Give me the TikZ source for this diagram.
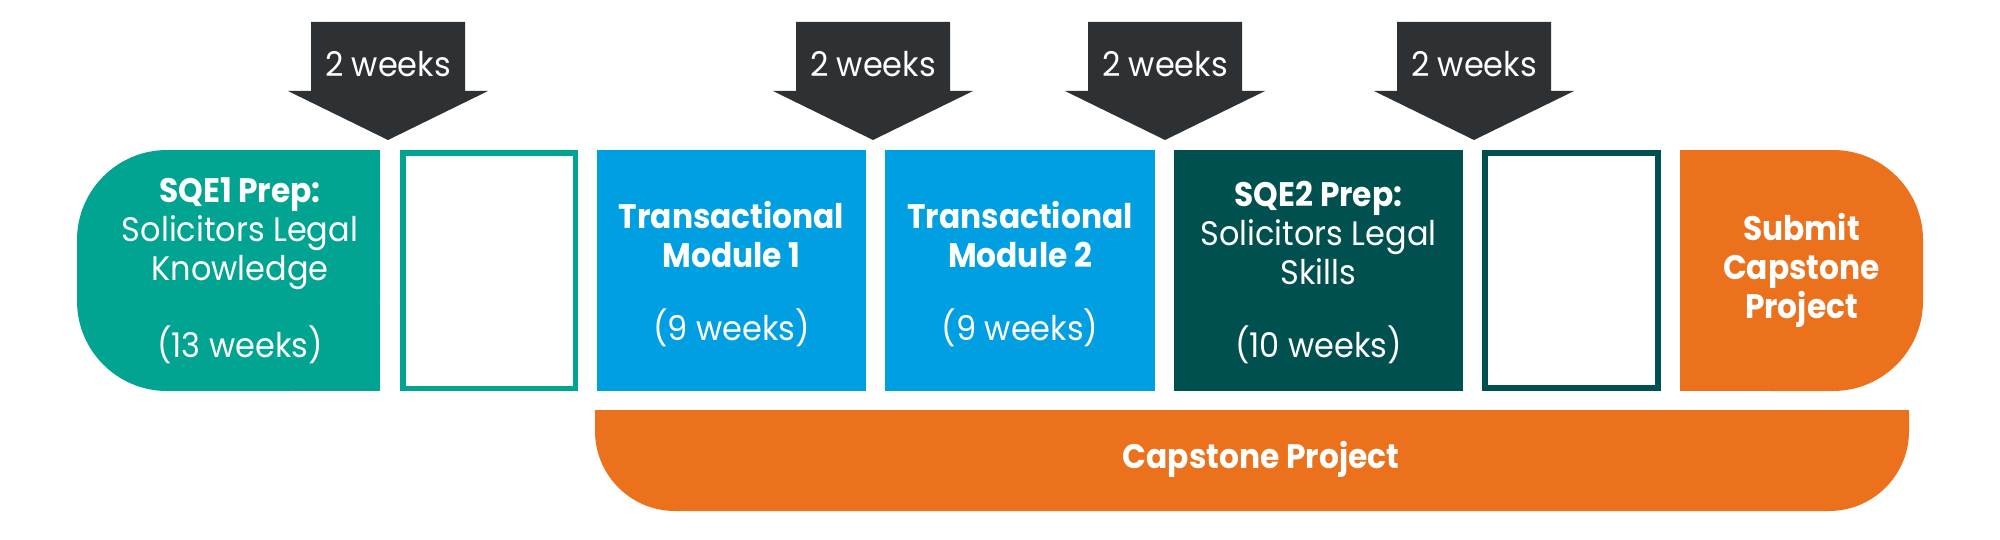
\documentclass[tikz,border=0pt]{standalone}
\usepackage{fontspec}
\setmainfont{Poppins}[FakeStretch=0.94,BoldFeatures={FakeStretch=0.92}]
\usepackage{tikz}
\usetikzlibrary{positioning}
\definecolor{sqeOneGreen}{RGB}{0,164,145}
\definecolor{transBlue}{RGB}{0,159,226}
\definecolor{sqeTwoGreen}{RGB}{0,80,80}
\definecolor{capOrange}{RGB}{236,113,28}
\definecolor{gapGrey}{RGB}{46,49,51}
\tikzstyle{blocktext} = [text=white,align=center,inner sep=0pt,anchor=base,font=\fontsize{17}{19.5}\selectfont]
\tikzstyle{weektext} = [text=white,inner sep=0pt,anchor=base,font=\fontsize{17}{19.5}\selectfont]

\begin{document}
\begin{tikzpicture}[x=0.5pt,y=-0.5pt]
	\useasboundingbox (0,0) rectangle (2000,540);
	%2 week breaks
	\foreach \x/\n in {388/one,873/two,1165/three,1474/four}{
		\fill[gapGrey] (\x-77,22) -- (\x+77,22) -- (\x+77,91) -- (\x+100,91) -- (\x,140) -- (\x-100,91) -- (\x-77,91) -- cycle;
		\node[weektext] (week\n) at (\x,77) {2 weeks};
	}
	
	\fill[sqeOneGreen,rounded corners=45pt] (77,150) rectangle (380,391);
	\fill[sqeOneGreen] (230,150) rectangle (380,391);
	\draw[sqeOneGreen,line width=2.75pt] (402.75,152.75) rectangle (575.25,388.25);
	\fill[transBlue] (597,150) rectangle (866,391);
	\fill[transBlue] (885,150) rectangle (1155,391);
	\fill[sqeTwoGreen] (1174,150) rectangle (1463,391);
	\draw[sqeTwoGreen,line width=3pt] (1485,153) rectangle (1658,388);
	\fill[capOrange,rounded corners=45pt] (1680,150) rectangle (1923,391);
	\fill[capOrange] (1680,150) rectangle (1800,391);
	\begin{scope}
		\clip (595,410) rectangle (1909,511);
		\fill[capOrange,rounded corners=40pt] (595,300) rectangle (1909,511);
	\end{scope}
	
	\node[blocktext] (sqeone) at (240,357) {\textbf{SQE1 Prep:}\\Solicitors Legal\\Knowledge\\[17pt](13 weeks)};
	\node[blocktext] (transone) at (731.5,340) {\textbf{Transactional}\\\textbf{Module 1}\\[17pt](9 weeks)};
	\node[blocktext] (transtwo) at (1020,340) {\textbf{Transactional}\\\textbf{Module 2}\\[17pt](9 weeks)};
	\node[blocktext] (sqetwo) at (1318.5,357) {\textbf{SQE2 Prep:}\\Solicitors Legal\\Skills\\[17pt](10 weeks)};
	\node[blocktext] (submit) at (1801.5,318) {\textbf{Submit}\\\textbf{Capstone}\\\textbf{Project}};
	\node[blocktext] (capstone) at (1261,468) {\textbf{Capstone Project}};
\end{tikzpicture}
\end{document}
